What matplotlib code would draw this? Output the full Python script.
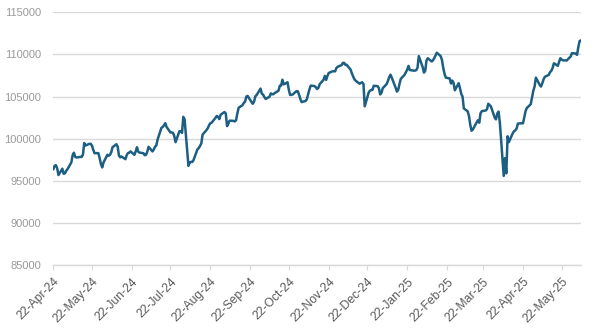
import matplotlib
matplotlib.use("Agg")
import matplotlib.pyplot as plt
import matplotlib.dates as mdates
import pandas as pd

# Daily closing values, one row per trading week (Mon..Fri)
first_day = "2024-04-22"
last_day = "2025-06-06"
index_values = [
    96400, 96800, 96870, 96500, 95700,
    96450, 95850, 95900, 96200, 96400,
    97200, 98050, 98350, 97850, 97780,
    97850, 97850, 98100, 99500, 99200,
    99400, 99400, 99200, 98700, 98290,
    98300, 97700, 97000, 96600, 97200,
    98100, 97990, 98100, 98400, 99000,
    99350, 99070, 98000, 97800, 97900,
    97580, 98050, 98300, 98360, 98500,
    98100, 98500, 99000, 98460, 98360,
    98290, 98050, 98100, 98450, 99050,
    98500, 98700, 99050, 99200, 99900,
    101300, 101400, 101600, 101850, 101400,
    100750, 100750, 100700, 100300, 99600,
    100900, 100900, 100700, 102600, 102300,
    96790, 97200, 97250, 97250, 97500,
    98750, 98900, 99150, 99450, 100500,
    101030, 101250, 101600, 101850, 101900,
    102480, 102700, 102600, 102330, 102850,
    103170, 103000, 101500, 101800, 102150,
    102120, 102060, 102200, 103000, 103680,
    103980, 104250, 104400, 105000, 105080,
    104350, 104150, 104400, 105050, 105180,
    105950, 105350, 105230, 104950, 104720,
    104980, 105380, 105280, 105280, 105420,
    105700, 106300, 106300, 107000, 106450,
    106700, 105800, 105200, 105200, 105260,
    105650, 105630, 105200, 104690, 104350,
    104480, 104690, 105250, 105850, 106300,
    106250, 106100, 105900, 106050, 106480,
    107000, 107450, 106980, 107450, 107800,
    108000, 108000, 108000, 108400, 108540,
    108730, 109000, 108990, 108760, 108760,
    108200, 107750, 107380, 107050, 106870,
    106530, 106620, 106700, 106500, 103850,
    105450, 105700, 105780, 105800, 106280,
    106240, 106000, 105250, 105450, 106000,
    106480, 106850, 107300, 107600, 107250,
    106050, 105590, 105800, 106500, 107100,
    107600, 107900, 108200, 108640, 108150,
    108080, 108080, 108130, 108400, 109800,
    108500, 107850, 108050, 109300, 109550,
    109170, 109300, 109550, 109880, 110200,
    109800, 109350, 108400, 107700, 107250,
    107150, 106550, 106900, 106650, 105750,
    106590, 106000, 105320, 105000, 103600,
    103250, 102700, 101640, 100950, 101100,
    101950, 102200, 101900, 103030, 103280,
    103350, 103500, 104150, 104000, 103850,
    102500, 102300, 103000, 103220, 101900,
    95600, 97700, 95900, 100300, 99600,
    100650, 100900, 101000, 101200, 101800,
    101840, 101840, 102600, 103300, 103650,
    104100, 104900, 105700, 106200, 107250,
    106380, 106190, 106590, 107060, 107350,
    107570, 107900, 108050, 108400, 108950,
    108650, 109100, 109550, 109400, 109300,
    109280, 109450, 109600, 109750, 110150,
    110100, 109950, 110900, 111600, 111650,
]
y_ticks = [85000, 90000, 95000, 100000, 105000, 110000, 115000]
tick_first = "2024-04-22"
tick_last = "2025-05-22"

dates = pd.bdate_range(first_day, last_day)
series = pd.Series(index_values, index=dates)
tick_dates = pd.date_range(tick_first, tick_last, freq=pd.DateOffset(months=1))

plt.rcParams["font.family"] = ["Liberation Sans", "DejaVu Sans"]

fig = plt.figure(figsize=(6.02, 3.31), dpi=100)
ax = fig.add_axes([0.0886, 0.1985, 0.8764, 0.7645])

ax.plot(series.index, series.values, color="#1c5f83", linewidth=1.8,
        solid_joinstyle="round", zorder=3)

ax.set_xlim(dates[0], dates[-1])
ax.set_ylim(y_ticks[0], y_ticks[-1])
ax.set_yticks(y_ticks)
ax.set_yticklabels([str(v) for v in y_ticks])
ax.yaxis.grid(True, color="#d9d9d9", linewidth=1.0)
ax.set_axisbelow(True)
ax.tick_params(axis="y", length=0, pad=9, labelsize=8, labelcolor="#9a9a9a")

ax.set_xticks(tick_dates)
ax.xaxis.set_major_formatter(mdates.DateFormatter("%d-%b-%y"))
ax.tick_params(axis="x", length=3.5, width=0.8, color="#d9d9d9", pad=4,
               labelsize=8.7, labelcolor="#595959")
for lbl in ax.get_xticklabels():
    lbl.set_rotation(45)
    lbl.set_ha("right")
    lbl.set_rotation_mode("anchor")

for side in ("left", "right", "top"):
    ax.spines[side].set_visible(False)
ax.spines["bottom"].set_color("#d9d9d9")
ax.spines["bottom"].set_linewidth(1.0)

fig.savefig("out.png", dpi=100, facecolor="white")
